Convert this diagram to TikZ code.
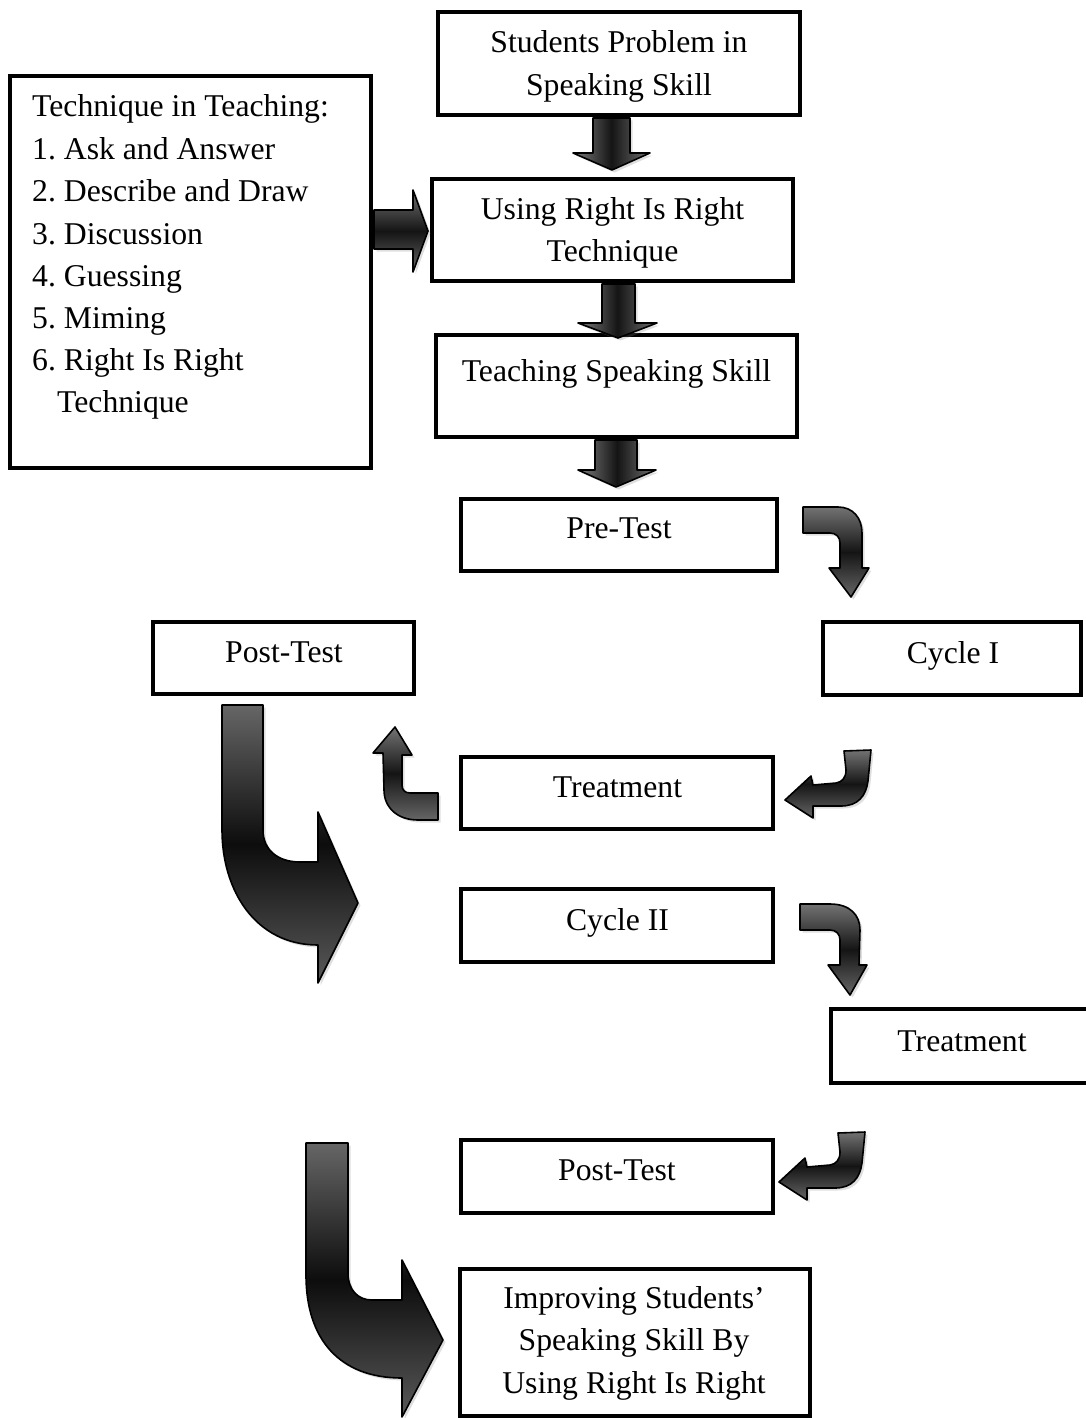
\documentclass[tikz,border=0pt]{standalone}
\usepackage{fontspec}
\setmainfont{Liberation Serif}
\usetikzlibrary{shadows}
\frenchspacing
\begin{document}
\begin{tikzpicture}[x=1pt,y=-1pt,
  box/.style={draw, line width=3.8pt, rectangle, inner sep=0pt},
  txt/.style={font=\fontsize{31.7}{42.3}\selectfont, inner sep=0pt, anchor=base},
  blockarr/.style={draw=black, line width=1.6pt, line join=round,
    drop shadow={shadow xshift=2.5pt, shadow yshift=-2.5pt, opacity=0.25}},
  vshade/.style={top color=black!55, bottom color=black!60, middle color=black!92},
  hshade/.style={left color=black!50, right color=black!55, middle color=black!92},
]
\useasboundingbox (0,0) rectangle (1085,1418);

% ---------- boxes ----------
\node[box, minimum width=362pt, minimum height=103pt] (prob) at (619,63.5) {};
\node[txt] (probA) at (619,53) {Students Problem in};
\node[txt] (probB) at (619,96) {Speaking Skill};

\node[box, minimum width=361pt, minimum height=392pt] (tech) at (190.5,272) {};
\node[txt, anchor=base west] (t0) at (32,117) {Technique in Teaching:};
\node[txt, anchor=base west] (t1) at (32,159) {1. Ask and Answer};
\node[txt, anchor=base west] (t2) at (32,201) {2. Describe and Draw};
\node[txt, anchor=base west] (t3) at (32,244) {3. Discussion};
\node[txt, anchor=base west] (t4) at (32,286) {4. Guessing};
\node[txt, anchor=base west] (t5) at (32,328) {5. Miming};
\node[txt, anchor=base west] (t6) at (32,370) {6. Right Is Right};
\node[txt, anchor=base west] (t7) at (57,412) {Technique};

\node[box, minimum width=361pt, minimum height=102pt] (using) at (612.5,230) {};
\node[txt] (usingA) at (612.5,219) {Using Right Is Right};
\node[txt] (usingB) at (612.5,261) {Technique};

\node[box, minimum width=361pt, minimum height=102pt] (teach) at (616.5,386) {};
\node[txt] (teachT) at (616.5,381) {Teaching Speaking Skill};

\node[box, minimum width=316pt, minimum height=72pt] (pre) at (619,535) {};
\node[txt] (preT) at (619,538) {Pre-Test};

\node[box, minimum width=261pt, minimum height=72pt] (post1) at (283.5,658) {};
\node[txt] (post1T) at (284,662) {Post-Test};

\node[box, minimum width=258pt, minimum height=73pt] (cyc1) at (952,658.5) {};
\node[txt] (cyc1T) at (953,663) {Cycle I};

\node[box, minimum width=312pt, minimum height=72pt] (treat1) at (617,793) {};
\node[txt] (treat1T) at (617.5,797) {Treatment};

\node[box, minimum width=312pt, minimum height=73pt] (cyc2) at (617,925.5) {};
\node[txt] (cyc2T) at (617.5,930) {Cycle II};

\node[box, minimum width=258pt, minimum height=74pt] (treat2) at (960,1046) {};
\node[txt] (treat2T) at (962,1051) {Treatment};

\node[box, minimum width=312pt, minimum height=73pt] (post2) at (617,1176.5) {};
\node[txt] (post2T) at (617,1180) {Post-Test};

\node[box, minimum width=350pt, minimum height=147pt] (impr) at (635,1342.5) {};
\node[txt] (imprA) at (634,1308) {Improving Students’};
\node[txt] (imprB) at (634,1350) {Speaking Skill By};
\node[txt] (imprC) at (634,1393) {Using Right Is Right};

% ---------- straight block arrows ----------
\path[blockarr, hshade] (593,118) -- (630,118) -- (630,153) -- (650,153) -- (612,170)
  -- (573,153) -- (593,153) -- cycle;
\path[blockarr, hshade] (602,284) -- (635,284) -- (635,323) -- (657,323) -- (618,338)
  -- (578,323) -- (602,323) -- cycle;
\path[blockarr, hshade] (595,440) -- (637,440) -- (637,470) -- (656,470) -- (616,487)
  -- (578,470) -- (595,470) -- cycle;
\path[blockarr, vshade] (374,210) -- (413,210) -- (413,190) -- (428,231) -- (413,272)
  -- (413,249) -- (374,249) -- cycle;

% ---------- small curved arrows ----------
% Pre-Test -> Cycle I
\path[blockarr, vshade] (803,507) -- (838,507) .. controls (853,507) and (862,518) .. (862,533)
  -- (862,568) -- (869,568) -- (851,597) -- (829,568) -- (840,568) -- (840,543)
  .. controls (840,537) and (836,533) .. (830,533) -- (803,533) -- cycle;
% Cycle II -> Treatment
\path[blockarr, vshade] (800,904) -- (830,904) .. controls (850,904) and (860,915) .. (860,930)
  -- (859,965) -- (867,965) -- (850,995) -- (828,965) -- (840,965) -- (840,940)
  .. controls (840,934) and (836,930) .. (830,930) -- (800,930) -- cycle;
% Treatment -> Post-Test (lower)
\path[blockarr, vshade] (838,1133) -- (865,1132) -- (862,1163)
  .. controls (860,1178) and (852,1188) .. (835,1188) -- (807,1188) -- (807,1200)
  -- (779,1182) -- (805,1158) -- (807,1167) -- (830,1165)
  .. controls (836,1164) and (840,1160) .. (840,1152) -- cycle;
% Cycle I -> Treatment (upper)
\begin{scope}[shift={(6,-382)}]
\path[blockarr, vshade] (838,1133) -- (865,1132) -- (862,1163)
  .. controls (860,1178) and (852,1188) .. (835,1188) -- (807,1188) -- (807,1200)
  -- (779,1182) -- (805,1158) -- (807,1167) -- (830,1165)
  .. controls (836,1164) and (840,1160) .. (840,1152) -- cycle;
\end{scope}
% Treatment -> Post-Test (up-left)
\path[blockarr, vshade] (383,753) -- (373,753) -- (395,727) -- (412,755) -- (402,755)
  -- (402,785) .. controls (402,790) and (405,793) .. (410,793) -- (438,793)
  -- (438,820) -- (418,820) .. controls (398,820) and (384,808) .. (384,790) -- cycle;

% ---------- big curved arrows ----------
\path[blockarr, top color=black!60, bottom color=black!65, middle color=black!95]
  (222,705) -- (263,705) -- (263,830) .. controls (263,850) and (278,862) .. (300,862)
  -- (318,862) -- (318,812) -- (358,903) -- (318,983) -- (318,945)
  .. controls (255,945) and (222,890) .. (222,830) -- cycle;
\path[blockarr, top color=black!60, bottom color=black!65, middle color=black!95]
  (306,1143) -- (348,1143) -- (348,1273) .. controls (348,1290) and (358,1300) .. (372,1300)
  -- (402,1300) -- (402,1260) -- (443,1340) -- (402,1417) -- (402,1378)
  .. controls (340,1378) and (306,1340) .. (306,1275) -- cycle;
\end{tikzpicture}
\end{document}
